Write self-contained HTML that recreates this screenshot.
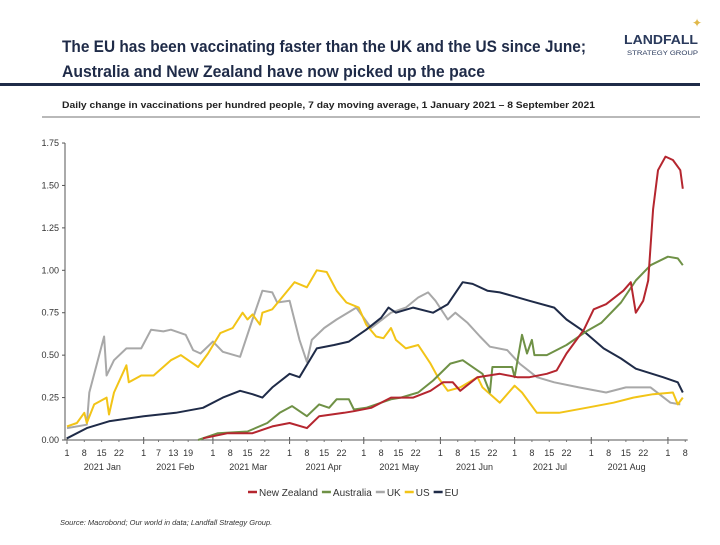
<!DOCTYPE html>
<html><head><meta charset="utf-8"><style>
body{margin:0;width:720px;height:540px;background:#fff;font-family:"Liberation Sans",sans-serif;overflow:hidden}
</style></head><body>
<svg width="720" height="540" xmlns="http://www.w3.org/2000/svg">
<text x="62" y="52" font-size="17" font-weight="bold" fill="#1f2b48" textLength="524" lengthAdjust="spacingAndGlyphs">The EU has been vaccinating faster than the UK and the US since June;</text>
<text x="62" y="77" font-size="17" font-weight="bold" fill="#1f2b48" textLength="423" lengthAdjust="spacingAndGlyphs">Australia and New Zealand have now picked up the pace</text>
<text x="624" y="44" font-size="13" font-weight="bold" fill="#2a3a5c" textLength="74" lengthAdjust="spacingAndGlyphs">LANDFALL</text>
<text x="627" y="55" font-size="6" fill="#2a3a5c" textLength="71" lengthAdjust="spacingAndGlyphs">STRATEGY GROUP</text>
<text x="697" y="27" font-size="12" text-anchor="middle" fill="#e0b84a">✦</text>
<rect x="0" y="83" width="700" height="3" fill="#1f2b48"/>
<text x="62" y="108" font-size="9" font-weight="bold" fill="#222" textLength="533" lengthAdjust="spacingAndGlyphs">Daily change in vaccinations per hundred people, 7 day moving average, 1 January 2021 – 8 September 2021</text>
<line x1="42" y1="117" x2="700" y2="117" stroke="#444" stroke-width="0.8"/>
<g id="axes"></g>
<g id="series"></g>
<g id="legend"></g>
<text x="60" y="525" font-size="7.5" font-style="italic" fill="#333">Source: Macrobond;  Our world in data; Landfall Strategy Group.</text>
</svg>
<script>
const yTicks=[0,0.25,0.5,0.75,1.0,1.25,1.5,1.75];
const monthNames=["2021 Jan","2021 Feb","2021 Mar","2021 Apr","2021 May","2021 Jun","2021 Jul","2021 Aug"];
const monthStarts=[0,31,59,90,120,151,181,212,243];
const monthDayLabels=[[1,8,15,22],[1,7,13,19],[1,8,15,22],[1,8,15,22],[1,8,15,22],[1,8,15,22],[1,8,15,22],[1,8,15,22],[1,8]];
const seriesNames=["New Zealand","Australia","UK","US","EU"];
const seriesColors=["#b5262f","#6f9146","#a8a8a8","#f2c417","#1f2b48"];
const nzDays=[55,65,75,83,90,97,102,112,116,123,131,140,147,152,156,159,166,175,182,187,194,198,202,209,213,218,225,228,230,233,235,237,239,242,245,248,249];
const nzVals=[0.01,0.04,0.04,0.08,0.10,0.07,0.14,0.16,0.17,0.19,0.25,0.25,0.29,0.34,0.34,0.29,0.37,0.39,0.37,0.37,0.39,0.41,0.51,0.65,0.77,0.80,0.88,0.93,0.75,0.82,0.94,1.36,1.59,1.67,1.65,1.59,1.48];
const auDays=[53,61,73,81,86,91,97,102,106,109,114,116,121,131,135,142,148,155,160,166,168,171,172,180,181,184,186,188,189,194,202,210,216,224,230,236,243,247,249];
const auVals=[0.00,0.04,0.05,0.10,0.16,0.20,0.14,0.21,0.19,0.24,0.24,0.18,0.19,0.24,0.25,0.28,0.35,0.45,0.47,0.41,0.39,0.28,0.43,0.43,0.37,0.62,0.51,0.59,0.50,0.50,0.56,0.64,0.69,0.81,0.94,1.03,1.08,1.07,1.03];
const ukDays=[0,8,9,15,16,19,24,30,34,39,42,48,51,54,59,63,70,75,79,83,85,90,94,97,99,104,109,117,123,131,137,142,146,149,154,157,162,167,171,178,183,190,197,207,218,226,236,244,248];
const ukVals=[0.07,0.09,0.28,0.61,0.38,0.47,0.54,0.54,0.65,0.64,0.65,0.62,0.53,0.51,0.58,0.52,0.49,0.71,0.88,0.87,0.81,0.82,0.59,0.46,0.59,0.66,0.71,0.78,0.66,0.75,0.78,0.84,0.87,0.82,0.71,0.75,0.69,0.61,0.55,0.53,0.45,0.37,0.34,0.31,0.28,0.31,0.31,0.22,0.21];
const usDays=[0,4,7,8,11,16,17,19,24,25,30,35,42,46,49,53,57,62,67,71,73,75,78,79,83,92,97,101,105,109,113,118,121,125,128,131,133,137,142,147,150,154,159,166,168,175,181,184,190,199,210,221,229,237,245,247,249];
const usVals=[0.08,0.10,0.16,0.10,0.21,0.25,0.15,0.28,0.44,0.34,0.38,0.38,0.47,0.50,0.47,0.43,0.51,0.63,0.66,0.75,0.71,0.74,0.68,0.75,0.77,0.93,0.90,1.00,0.99,0.88,0.81,0.78,0.68,0.61,0.60,0.66,0.59,0.54,0.56,0.45,0.37,0.29,0.31,0.37,0.31,0.22,0.32,0.28,0.16,0.16,0.19,0.22,0.25,0.27,0.28,0.21,0.25];
const euDays=[0,8,17,31,44,55,63,70,75,79,83,90,94,101,108,114,121,127,130,133,140,148,154,160,164,170,175,180,187,197,202,209,217,224,230,241,247,249];
const euVals=[0.01,0.07,0.11,0.14,0.16,0.19,0.25,0.29,0.27,0.25,0.31,0.39,0.37,0.54,0.56,0.58,0.65,0.72,0.78,0.75,0.78,0.75,0.80,0.93,0.92,0.88,0.87,0.85,0.82,0.78,0.71,0.64,0.54,0.48,0.42,0.37,0.34,0.28];
const allDays=[nzDays,auDays,ukDays,usDays,euDays];
const allVals=[nzVals,auVals,ukVals,usVals,euVals];

const NS="http://www.w3.org/2000/svg";
const X0=67,PXD=2.473,Y0=440,PXV=169.7;
const xs=d=>X0+d*PXD, ys=v=>Y0-v*PXV;
function mk(tag,attrs,parent){const e=document.createElementNS(NS,tag);for(const k in attrs)e.setAttribute(k,attrs[k]);parent.appendChild(e);return e;}
const axes=document.getElementById('axes');
const yAxis=mk('line',{x1:X0-2,y1:ys(1.75),x2:X0-2,y2:Y0,stroke:'#555','stroke-width':1},axes);


yTicks.forEach(v=>{
  const t=mk('line',{x1:X0-5,y1:ys(v),x2:X0-2,y2:ys(v),stroke:'#555'},axes);
  
  
  const l=mk('text',{x:X0-8,y:ys(v)+3,'font-size':9,'text-anchor':'end',fill:'#333'},axes);
  l.textContent=v.toFixed(2);
  
  
});
const xAxis=mk('line',{x1:X0-2,y1:Y0,x2:xs(251),y2:Y0,stroke:'#555','stroke-width':1},axes);


monthDayLabels.forEach((days,mi)=>{
  const mt=mk('line',{x1:xs(monthStarts[mi]),y1:Y0-3,x2:xs(monthStarts[mi]),y2:Y0+4,stroke:'#555'},axes);
  
  
  days.forEach(d=>{
    const x=xs(monthStarts[mi]+d-1);
    const t=mk('line',{x1:x,y1:Y0,x2:x,y2:Y0+2,stroke:'#777'},axes);
    
    
    const l=mk('text',{x:x,y:Y0+16,'font-size':9,'text-anchor':'middle',fill:'#333'},axes);
    l.textContent=d;
    
    
  });
  if(mi<monthNames.length){
    const l=mk('text',{x:xs((monthStarts[mi]+monthStarts[mi+1])/2)-3,y:Y0+30,'font-size':9,'text-anchor':'middle',fill:'#333'},axes);
    l.textContent=monthNames[mi];
    
    
  }
});
const sg=document.getElementById('series');
[2,3,4,1,0].forEach(i=>{
  const pts=allDays[i].map((d,j)=>xs(d).toFixed(1)+','+ys(allVals[i][j]).toFixed(1)).join(' ');
  const p=mk('polyline',{points:pts,fill:'none',stroke:seriesColors[i],'stroke-width':2,'stroke-linejoin':'round'},sg);
  
  
});
const lg=document.getElementById('legend');
let lx=248;
seriesNames.forEach((n,i)=>{
  const sw=mk('line',{x1:lx,y1:492,x2:lx+9,y2:492,stroke:seriesColors[i],'stroke-width':2.5},lg);
  
  
  const t=mk('text',{x:lx+11,y:496,'font-size':10,fill:'#333'},lg);
  t.textContent=n;
  
  
  lx+=11+t.getComputedTextLength()+4;
});
</script>
</body></html>
